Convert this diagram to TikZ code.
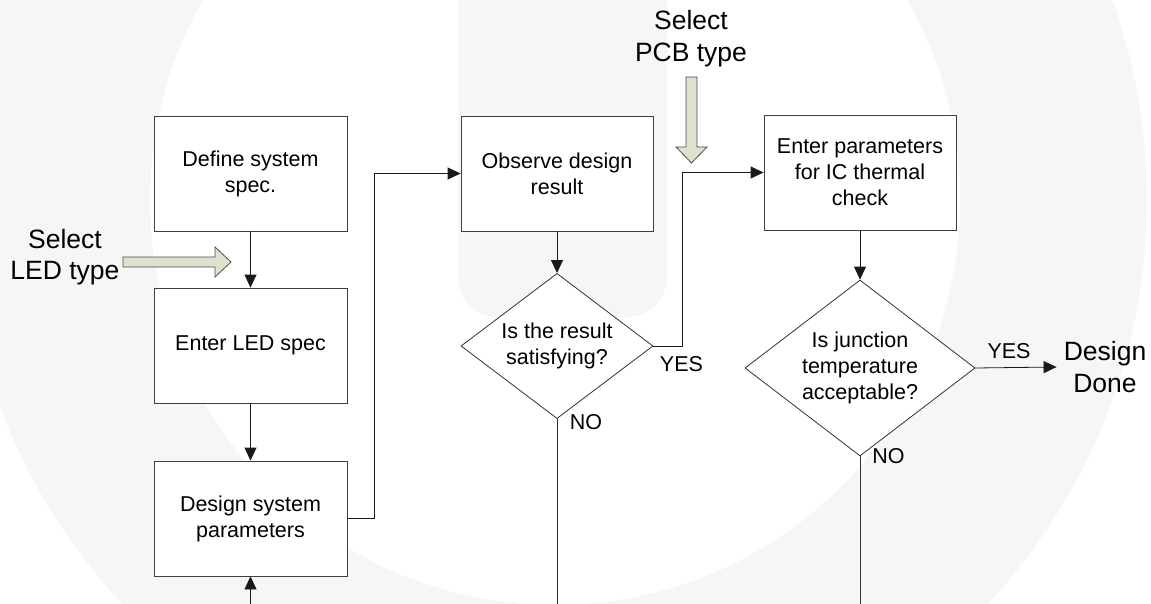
\documentclass[tikz,border=0pt]{standalone}
\usepackage{fontspec}
\setmainfont{Liberation Sans}
\usetikzlibrary{arrows.meta,shapes.geometric,positioning}
\definecolor{inputgreen}{RGB}{221,226,204}
\definecolor{wmark}{RGB}{246,246,246}
\newcommand\boxfont{\fontsize{21.5}{26}\selectfont}
\newcommand\bigfont{\fontsize{26.5}{31.5}\selectfont}
\tikzset{
  procbox/.style={draw=black!75, fill=white, line width=0.8pt, minimum width=193pt, minimum height=115pt, align=center, font=\boxfont, inner sep=2pt},
  decision/.style={draw=black!80, fill=white, line width=0.8pt, shape=diamond, inner sep=-3pt, align=center, font=\boxfont},
  flow/.style={draw=black!90, line width=0.8pt, -{Triangle[length=13pt,width=12pt]}},
  plainline/.style={draw=black!80, line width=0.8pt},
  inputarrow/.style={draw=black!70, fill=inputgreen, line width=0.8pt},
  bigtext/.style={align=center, font=\bigfont, inner sep=1pt},
  smalltext/.style={font=\boxfont, inner sep=1pt}
}

\begin{document}
\begin{tikzpicture}[x=1pt,y=-1pt]
\useasboundingbox (0,0) rectangle (1151,604);
\clip (0,0) rectangle (1151,604);
\fill[wmark, even odd rule] (555,200) circle[radius=592] (555,200) circle[radius=405];
\fill[wmark, rounded corners=40pt] (458,-50) rectangle (667,317);

\node[procbox] (define) at (250.5,173.5) {Define system\\spec.};
\node[procbox] (enterled) at (250.5,345.5) {Enter LED spec};
\node[procbox] (designsys) at (250.5,518.5) {Design system\\parameters};
\node[procbox, minimum width=192pt] (observe) at (557,173.5) {Observe design\\result};
\node[decision, minimum width=192pt, minimum height=114pt] (result) at (557,346) {Is the result\\satisfying?};
\node[procbox, minimum width=192pt] (icheck) at (860,172.5) {Enter parameters\\for IC thermal\\check};
\node[decision, minimum width=230pt, minimum height=138pt] (junction) at (860,368) {Is junction\\temperature\\acceptable?};
\node[bigtext] (done) at (1105,367) {Design\\Done};
\node[bigtext] (ledsel) at (65,257) {Select\\LED type};
\node[bigtext] (pcbsel) at (691,38.5) {Select\\PCB type};
\node[smalltext] (yesres) at (681.5,364) {YES};
\node[smalltext] (nores) at (586,422) {NO};
\node[smalltext] (yesjunc) at (1009,351) {YES};
\node[smalltext] (nojunc) at (888.5,456) {NO};
\coordinate (loopin) at (250.5,604);
\coordinate (resultend) at (557,604);
\coordinate (junctionend) at (860,604);

\draw[flow] (define.south) -- (enterled.north);
\draw[flow] (enterled.south) -- (designsys.north);
\draw[flow] (loopin) -- (designsys.south);
\draw[flow] (designsys.east) -- ++(27,0) |- (observe.west);
\draw[flow] (observe.south) -- (result.north);
\draw[flow] (result.east) -- ++(28.5,0) |- (icheck.west);
\draw[flow] (icheck.south) -- (junction.north);
\draw[flow] (junction.east) -- ([xshift=-6pt]done.west);
\draw[plainline] (result.south) -- (resultend);
\draw[plainline] (junction.south) -- (junctionend);

\draw[inputarrow] (123,257) -- (215,257) -- (215,247) -- (231,262) -- (215,277) -- (215,267) -- (123,267) -- cycle;
\draw[inputarrow] (686,77) -- (697,77) -- (697,147) -- (707,147) -- (691.5,163) -- (676,147) -- (686,147) -- cycle;
\end{tikzpicture}
\end{document}
